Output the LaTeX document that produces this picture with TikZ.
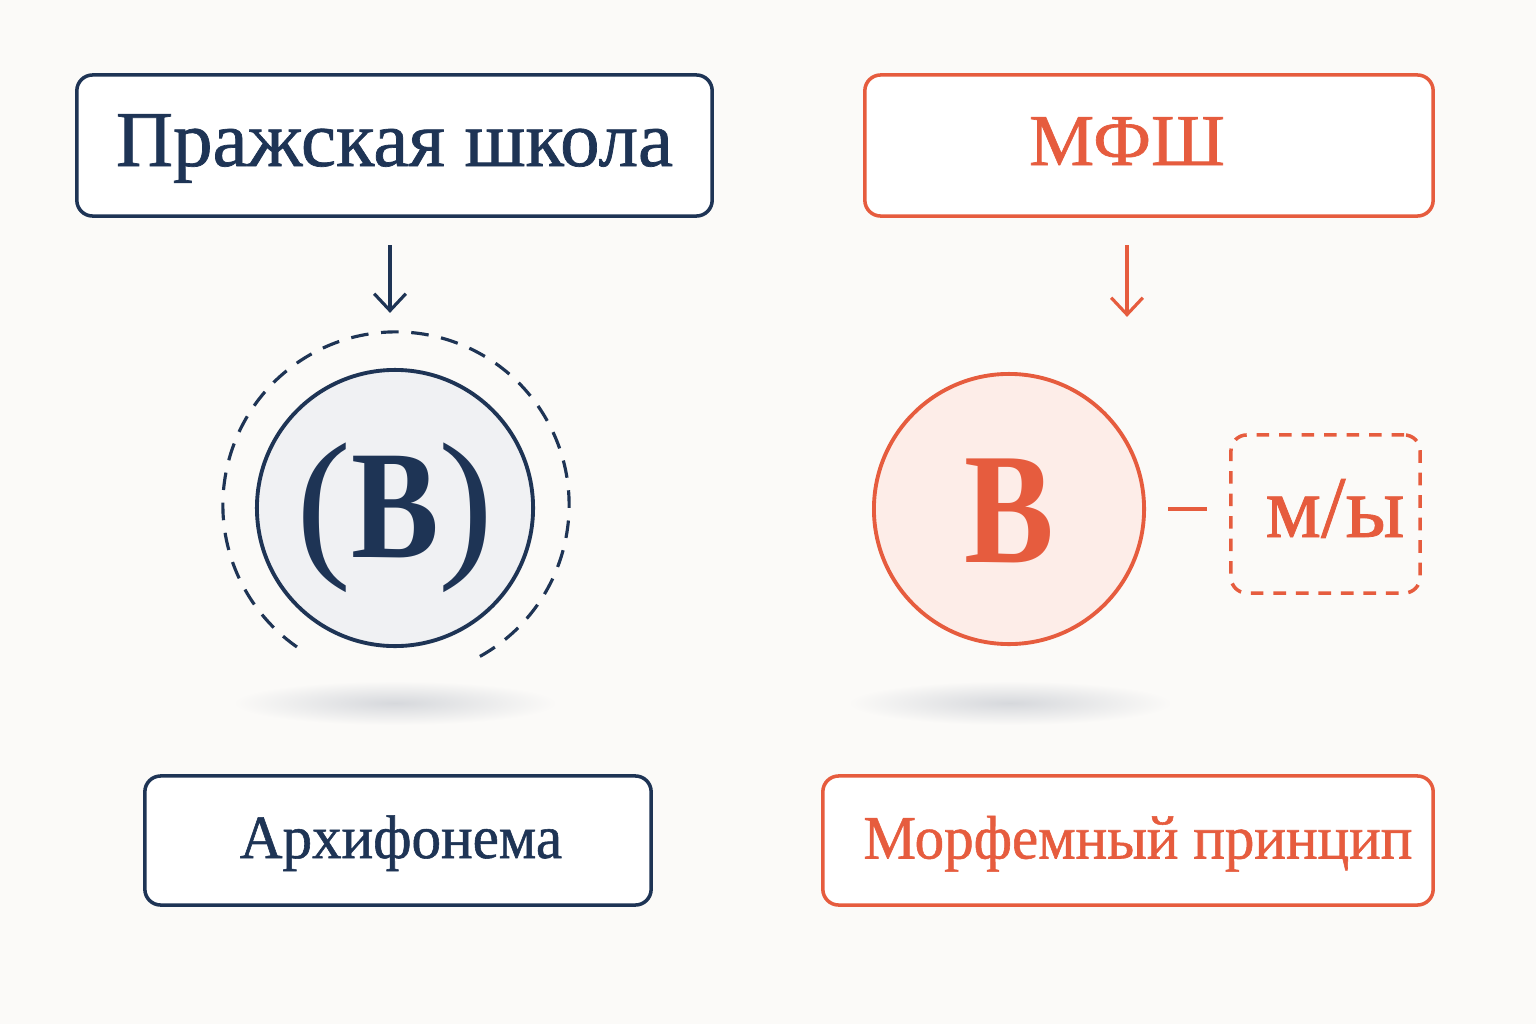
\documentclass[tikz,border=0pt]{standalone}
\usepackage{fontspec}
\setmainfont{Liberation Serif}
\newfontfamily\semibf[FakeBold=0.9]{Liberation Serif}
\newfontfamily\semibfn[FakeBold=0.9, FakeStretch=0.96]{Liberation Serif}
\newfontfamily\bigB[FakeStretch=0.85]{Liberation Serif Bold}
\newfontfamily\parenf{Liberation Serif}
\usetikzlibrary{arrows.meta}
\definecolor{bg}{HTML}{FBFAF8}
\definecolor{navy}{HTML}{1E3455}
\definecolor{coral}{HTML}{E65C3E}
\definecolor{grayfill}{HTML}{F0F1F3}
\definecolor{pinkfill}{HTML}{FDEDE8}
\definecolor{shadowc}{HTML}{D6D8DC}
\tikzset{
  navybox/.style={draw=navy, line width=1pt, rounded corners=4.5pt, fill=white, text=navy, inner sep=0pt, outer sep=0pt, text depth=0pt},
  coralbox/.style={draw=coral, line width=1pt, rounded corners=4.5pt, fill=white, text=coral, inner sep=0pt, outer sep=0pt, text depth=0pt},
  arr/.style={line width=0.9pt, -{Straight Barb[length=4.8pt,width=9pt,line width=0.9pt]}},
  disc/.style={circle, inner sep=0pt, outer sep=0pt, line width=1.1pt, text depth=0pt},
}
\begin{document}
\begin{tikzpicture}[x=0.01cm,y=-0.01cm]
\fill[bg] (0,0) rectangle (1536,1024);
\useasboundingbox (0,0) rectangle (1536,1024);
% shadows
\shade[inner color=shadowc, outer color=bg] (395,703) ellipse [x radius=1.62cm, y radius=0.22cm];
\shade[inner color=shadowc, outer color=bg] (1010,703) ellipse [x radius=1.62cm, y radius=0.22cm];
% top boxes
\node[navybox, minimum width=6.35cm, minimum height=1.41cm, text height=0.41cm, font=\semibf\fontsize{22.5}{26}\selectfont] (prague) at (394.5,145.5) {Пражская школа};
\node[coralbox, minimum width=5.68cm, minimum height=1.41cm, text height=0.39cm, font=\semibf\fontsize{20.8}{24}\selectfont] (mfsh) at (1149,145.5) {МФШ\hspace*{0.44cm}};
% left circle
\node[circle, draw=none, minimum size=3.46cm, inner sep=0pt, outer sep=0pt] (outer) at (396,505) {};
\draw[navy, line width=0.9pt, dash pattern=on 5pt off 3.6pt] (outer.-61) arc[start angle=-61, end angle=236, radius=1.73cm];
\node[disc, draw=navy, fill=grayfill, minimum size=2.76cm, text height=0.98cm, text=navy] (archi) at (395,508) {{\parenf\fontsize{47}{50}\selectfont(}{\bigB\fontsize{44}{48}\selectfont В}{\parenf\fontsize{47}{50}\selectfont)}};
% right circle
\node[disc, draw=coral, fill=pinkfill, minimum size=2.70cm, text height=1.06cm, text=coral, font=\bigB\fontsize{45}{48}\selectfont] (vb) at (1009,509) {В};
\node[draw=coral, line width=1pt, dash pattern=on 3.6pt off 2.8pt, rounded corners=4.5pt, minimum width=1.89cm, minimum height=1.58cm, inner sep=0pt, outer sep=0pt, text height=0.46cm, text depth=0pt, text=coral, font=\semibf\fontsize{25}{28}\selectfont] (my) at (1325.5,514) {\hspace*{0.19cm}м/ы};
% arrows
\draw[arr, navy, shorten <=0.29cm, shorten >=0.19cm] (prague.south -| 390,0) -- (outer.north -| 390,0);
\draw[arr, coral, shorten <=0.29cm, shorten >=0.57cm] (mfsh.south -| 1127,0) -- (vb.north -| 1127,0);
% connector
\draw[coral, line width=1.2pt, shorten <=0.24cm, shorten >=0.24cm] (vb.east) -- (my.west |- vb.east);
% bottom boxes
\node[navybox, minimum width=5.06cm, minimum height=1.29cm, text height=0.35cm, font=\semibfn\fontsize{17.5}{20}\selectfont] (arch) at (398,840.5) {\hspace*{0.06cm}Архифонема};
\node[coralbox, minimum width=6.10cm, minimum height=1.29cm, text height=0.36cm, font=\semibfn\fontsize{17.5}{20}\selectfont] (morph) at (1128,840.5) {\hspace*{0.2cm}Морфемный принцип};
\end{tikzpicture}
\end{document}
